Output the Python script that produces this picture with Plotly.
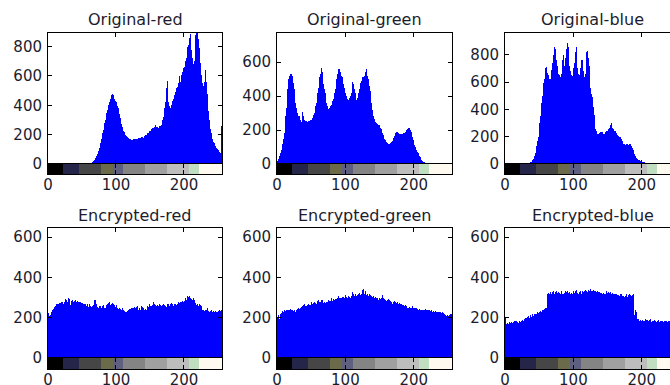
import plotly.graph_objects as go

# ---------------- data ----------------
levels = list(range(256))

orig_red = (
    [0] * 48 +
    [0, 0, 0, 0, 0, 0, 0, 0, 0, 0, 1, 2, 3, 4, 6, 8] +
    [11, 15, 19, 24, 30, 38, 46, 55, 66, 78, 92, 108, 125, 145, 168, 190] +
    [210, 230, 255, 280, 300, 320, 345, 370, 385, 400, 420, 440, 455, 470, 480, 500] +
    [470, 445, 440, 430, 420, 405, 395, 380, 360, 340, 315, 290, 270, 250, 238, 225] +
    [215, 205, 195, 188, 182, 178, 176, 172, 170, 168, 166, 162, 165, 168, 166, 170] +
    [168, 165, 170, 172, 175, 178, 174, 176, 180, 182, 184, 186, 180, 188, 192, 196] +
    [198, 205, 210, 208, 215, 222, 228, 235, 240, 248, 250, 245, 255, 262, 268, 255] +
    [250, 252, 248, 255, 260, 258, 265, 280, 300, 320, 345, 380, 420, 470, 520, 565] +
    [460, 420, 395, 380, 385, 400, 415, 430, 445, 460, 470, 490, 505, 515, 525, 550] +
    [580, 600, 560, 575, 610, 630, 645, 655, 660, 680, 700, 720, 760, 800, 810, 830] +
    [860, 885, 820, 780, 720, 660, 680, 700, 760, 880, 895, 890, 880, 850, 790, 740] +
    [690, 610, 580, 550, 530, 500, 560, 640, 600, 560, 480, 420, 360, 300, 270, 240] +
    [210, 190, 170, 150, 140, 130, 120, 110, 105, 100, 95, 90, 80, 75, 70, 260]
)

orig_green = (
    [20, 25, 30, 45, 55, 65, 80, 100, 120, 150, 180, 220, 280, 330, 380, 440] +
    [500, 510, 520, 530, 545, 530, 520, 500, 480, 440, 400, 360, 330, 300, 290, 285] +
    [280, 270, 260, 250, 270, 305, 280, 265, 260, 255, 250, 255, 248, 250, 252, 255] +
    [258, 260, 262, 270, 280, 290, 300, 310, 340, 360, 380, 420, 450, 480, 510, 530] +
    [550, 565, 540, 500, 470, 440, 420, 390, 360, 340, 330, 325, 330, 335, 340, 350] +
    [360, 370, 385, 400, 420, 440, 470, 500, 530, 560, 585, 560, 540, 530, 520, 510] +
    [490, 470, 450, 430, 420, 400, 390, 385, 380, 385, 390, 400, 420, 460, 485, 470] +
    [460, 440, 420, 390, 380, 390, 400, 420, 440, 460, 480, 490, 500, 510, 515, 520] +
    [530, 540, 560, 540, 520, 500, 480, 460, 430, 400, 360, 320, 300, 280, 265, 260] +
    [250, 240, 238, 235, 232, 228, 222, 215, 205, 195, 185, 170, 160, 150, 140, 135] +
    [128, 125, 122, 120, 120, 122, 125, 130, 138, 145, 155, 165, 175, 185, 190, 192] +
    [190, 185, 182, 178, 175, 174, 175, 176, 178, 180, 185, 190, 195, 200, 205, 210] +
    [215, 212, 205, 200, 190, 175, 160, 140, 125, 110, 100, 90, 80, 70, 62, 55] +
    [48, 40, 32, 26, 20, 16, 12, 9, 7, 5, 3, 2, 1, 0, 0, 0] +
    [0] * 32
)

orig_blue = (
    [0] * 16 +
    [0] * 14 + [1, 2] +
    [3, 5, 7, 9, 11, 14, 18, 22, 28, 36, 48, 62, 80, 100, 130, 165] +
    [200, 250, 300, 350, 400, 450, 500, 550, 590, 620, 650, 700, 710, 690, 670, 650] +
    [640, 620, 625, 650, 690, 740, 800, 850, 855, 840, 800, 760, 720, 680, 660, 650] +
    [650, 640, 660, 720, 760, 800, 760, 720, 780, 840, 870, 890, 860, 780, 720, 680] +
    [660, 650, 645, 650, 700, 740, 770, 820, 860, 780, 700, 660, 650, 660, 700, 760] +
    [820, 760, 680, 650, 640, 660, 740, 820, 825, 810, 780, 720, 640, 560, 510, 490] +
    [470, 420, 360, 300, 260, 240, 225, 220, 222, 225, 230, 235, 240, 238, 232, 228] +
    [222, 218, 225, 232, 240, 245, 250, 255, 262, 270, 285, 300, 280, 265, 258, 250] +
    [245, 240, 232, 225, 215, 210, 205, 200, 195, 190, 180, 165, 150, 148, 145, 142] +
    [140, 145, 150, 148, 140, 145, 150, 148, 140, 130, 120, 100, 85, 70, 60, 52] +
    [45, 40, 35, 32, 30, 28, 25, 22, 20, 18, 16, 14, 12, 10, 9, 8] +
    [7, 6, 5, 4, 3, 3, 2, 2, 1, 1, 1, 0, 0, 0, 0, 0] +
    [0] * 32
)

enc_red = (
    [225, 218, 210, 214, 222, 228, 236, 240, 245, 252, 262, 258, 266, 270, 262, 268] +
    [272, 266, 275, 280, 290, 276, 270, 282, 278, 292, 320, 286, 280, 296, 300, 292] +
    [305, 262, 284, 290, 288, 276, 282, 280, 286, 278, 272, 284, 280, 270, 276, 278] +
    [268, 274, 272, 264, 270, 266, 260, 268, 258, 262, 270, 254, 262, 266, 258, 252] +
    [260, 256, 262, 270, 286, 290, 280, 268, 252, 260, 250, 256, 262, 258, 250, 248] +
    [258, 262, 256, 250, 246, 252, 262, 268, 256, 272, 276, 264, 258, 266, 272, 280] +
    [270, 262, 258, 252, 262, 256, 250, 244, 256, 250, 242, 248, 240, 246, 238, 236] +
    [232, 238, 230, 226, 234, 240, 236, 244, 238, 242, 248, 244, 250, 246, 240, 252] +
    [248, 244, 252, 258, 246, 240, 250, 244, 238, 256, 300, 252, 246, 240, 248, 244] +
    [238, 250, 258, 252, 262, 266, 260, 270, 256, 262, 276, 280, 268, 272, 262, 258] +
    [270, 264, 258, 274, 266, 262, 256, 268, 262, 270, 258, 264, 256, 260, 252, 266] +
    [262, 270, 258, 254, 266, 272, 262, 268, 256, 262, 270, 266, 274, 262, 270, 276] +
    [268, 274, 280, 272, 276, 282, 288, 278, 284, 290, 296, 288, 300, 310, 304, 298] +
    [306, 296, 300, 292, 286, 296, 298, 290, 284, 272, 262, 270, 264, 258, 266, 270] +
    [262, 256, 248, 240, 236, 244, 232, 238, 242, 236, 246, 240, 234, 230, 238, 232] +
    [240, 236, 228, 234, 230, 238, 232, 226, 236, 230, 234, 228, 236, 232, 230, 236]
)

enc_green = (
    [205, 222, 215, 196, 212, 218, 224, 228, 232, 230, 236, 238, 232, 240, 242, 236] +
    [238, 244, 240, 242, 236, 240, 238, 244, 234, 240, 236, 230, 238, 244, 240, 246] +
    [242, 250, 246, 252, 248, 256, 262, 270, 266, 258, 262, 256, 264, 260, 268, 262] +
    [264, 270, 276, 268, 262, 272, 280, 276, 272, 268, 278, 282, 290, 286, 280, 276] +
    [284, 290, 286, 280, 272, 278, 274, 284, 280, 276, 286, 290, 282, 288, 284, 296] +
    [290, 284, 292, 296, 288, 294, 300, 292, 298, 310, 302, 296, 300, 306, 298, 304] +
    [310, 302, 296, 306, 312, 304, 300, 296, 306, 298, 304, 300, 310, 318, 326, 320] +
    [314, 308, 316, 300, 306, 312, 320, 318, 324, 330, 312, 318, 328, 335, 342, 320] +
    [348, 330, 312, 322, 318, 310, 306, 316, 314, 300, 310, 302, 296, 306, 300, 298] +
    [304, 296, 292, 300, 290, 296, 288, 294, 300, 290, 314, 298, 288, 292, 286, 290] +
    [282, 288, 280, 292, 286, 278, 284, 276, 270, 280, 276, 284, 272, 280, 274, 268] +
    [278, 270, 264, 272, 266, 260, 268, 262, 258, 264, 256, 262, 252, 258, 250, 256] +
    [248, 254, 258, 250, 246, 252, 256, 248, 242, 250, 246, 240, 248, 244, 238, 246] +
    [242, 236, 244, 240, 236, 232, 240, 238, 246, 242, 236, 230, 240, 236, 244, 238] +
    [232, 240, 236, 228, 234, 230, 226, 232, 224, 230, 226, 222, 230, 226, 220, 228] +
    [224, 218, 226, 222, 216, 220, 214, 210, 206, 214, 208, 204, 212, 218, 210, 216]
)

enc_blue = (
    [200, 172, 168, 176, 174, 170, 178, 175, 172, 180, 176, 172, 178, 184, 176, 182] +
    [186, 180, 178, 174, 182, 186, 180, 190, 184, 188, 194, 186, 196, 200, 192, 198] +
    [204, 198, 206, 200, 208, 212, 204, 210, 216, 208, 214, 220, 216, 224, 218, 226] +
    [222, 230, 226, 232, 236, 230, 238, 242, 236, 244, 240, 246, 250, 248, 320, 325] +
    [312, 318, 326, 330, 320, 328, 334, 322, 316, 326, 320, 330, 324, 318, 328, 322] +
    [326, 318, 330, 324, 320, 316, 328, 322, 334, 326, 320, 330, 324, 332, 326, 320] +
    [328, 322, 318, 326, 332, 324, 320, 330, 336, 326, 322, 318, 328, 324, 330, 320] +
    [326, 334, 328, 338, 330, 336, 342, 334, 328, 340, 336, 330, 338, 344, 332, 330] +
    [400, 336, 330, 342, 334, 328, 336, 330, 326, 334, 328, 322, 330, 324, 320, 328] +
    [322, 316, 326, 320, 330, 324, 318, 328, 322, 316, 326, 320, 314, 322, 318, 312] +
    [320, 316, 310, 318, 314, 320, 312, 308, 316, 310, 318, 306, 314, 310, 304, 312] +
    [308, 316, 310, 304, 312, 318, 320, 314, 310, 306, 312, 316, 220, 212, 236, 246] +
    [226, 196, 188, 192, 186, 194, 190, 184, 192, 188, 182, 190, 186, 194, 188, 182] +
    [190, 186, 180, 188, 192, 184, 178, 186, 190, 182, 188, 194, 186, 180, 188, 184] +
    [190, 184, 178, 186, 182, 190, 184, 178, 188, 182, 186, 192, 184, 180, 188, 182] +
    [186, 190, 184, 178, 186, 192, 184, 188, 182, 186, 190, 184, 180, 188, 184, 190]
)

titles = ["Original-red", "Original-green", "Original-blue",
          "Encrypted-red", "Encrypted-green", "Encrypted-blue"]
series = [orig_red, orig_green, orig_blue, enc_red, enc_green, enc_blue]
y_max = [893, 772, 960, 645, 645, 645]
y_ticks = [[0, 200, 400, 600, 800], [0, 200, 400, 600], [0, 200, 400, 600, 800],
           [0, 200, 400, 600], [0, 200, 400, 600], [0, 200, 400, 600]]
x_ticks = [0, 100, 200]

# gray-level colour bar as rendered (palettised) in the picture
cbar_edges = [0, 22, 46, 78, 95, 111, 143, 175, 207, 222, 256]
cbar_colors = ["#000000", "#25254a", "#464646", "#6b6b4a", "#5f5f80",
               "#848484", "#a0a0a0", "#bdbdbd", "#bfdfc0", "#fffaf0"]

# ---------------- layout geometry (pixels) ----------------
W, H = 670, 385
col_px = [(48, 222), (277, 452), (505, 680)]
row_hist_px = [(33, 164), (228, 358)]
row_cbar_px = [(164, 174), (358, 369)]
title_y_px = [19, 215]

FONT = "DejaVu Sans"
TXT = "#1c1c2e"

fig = go.Figure()
layout = dict(width=W, height=H, margin=dict(l=0, r=0, t=0, b=0, autoexpand=False),
              paper_bgcolor="white", plot_bgcolor="white",
              showlegend=False, bargap=0, annotations=[])

for p in range(6):
    r, c = divmod(p, 3)
    hx, cx = 2 * p + 1, 2 * p + 2
    x0, x1 = col_px[c]
    clip = x1 > W
    xr = 256.0 * (min(x1, W) - x0) / (x1 - x0)
    xd = [x0 / W, min(x1, W) / W]
    hy = [1 - row_hist_px[r][1] / H, 1 - row_hist_px[r][0] / H]
    cy = [1 - row_cbar_px[r][1] / H, 1 - row_cbar_px[r][0] / H]

    fig.add_trace(go.Bar(
        x=[v + 0.5 for v in levels], y=series[p], width=1,
        marker=dict(color="#0000ff", line=dict(width=0)),
        xaxis=f"x{hx}", yaxis=f"y{hx}", hoverinfo="skip"))

    fig.add_trace(go.Bar(
        x=[(cbar_edges[i] + cbar_edges[i + 1]) / 2 for i in range(len(cbar_colors))],
        y=[1] * len(cbar_colors),
        width=[cbar_edges[i + 1] - cbar_edges[i] for i in range(len(cbar_colors))],
        marker=dict(color=cbar_colors, line=dict(width=0)),
        xaxis=f"x{cx}", yaxis=f"y{cx}", hoverinfo="skip"))

    common_x = dict(range=[0, xr], domain=xd, showgrid=False, zeroline=False,
                    showline=True, linecolor="black", linewidth=1,
                    ticks="inside", ticklen=4, tickcolor="black",
                    tickvals=x_ticks, fixedrange=True, automargin=False)

    layout[f"xaxis{hx}"] = dict(common_x, anchor=f"y{hx}", mirror="ticks",
                                showticklabels=False)
    layout[f"yaxis{hx}"] = dict(range=[0, y_max[p]], domain=hy, anchor=f"x{hx}",
                                showgrid=False, zeroline=False, showline=True,
                                linecolor="black", linewidth=1,
                                mirror=False if clip else "ticks",
                                ticks="inside", ticklen=4, tickcolor="black",
                                tickvals=y_ticks[p],
                                ticktext=[str(t) for t in y_ticks[p]],
                                tickfont=dict(family=FONT, size=15, color=TXT),
                                ticklabelstandoff=2, fixedrange=True,
                                automargin=False)
    layout[f"xaxis{cx}"] = dict(common_x, anchor=f"y{cx}", mirror="ticks",
                                showticklabels=True,
                                tickfont=dict(family=FONT, size=15, color=TXT),
                                ticklabelstandoff=-3)
    layout[f"yaxis{cx}"] = dict(range=[0, 1], domain=cy, anchor=f"x{cx}",
                                showgrid=False, zeroline=False, showline=True,
                                linecolor="black", linewidth=1,
                                mirror=False if clip else True,
                                showticklabels=False, ticks="", fixedrange=True,
                                automargin=False)

    layout["annotations"].append(dict(
        text=titles[p], xref="paper", yref="paper",
        x=(x0 + x1) / 2 / W, y=1 - title_y_px[r] / H,
        xanchor="center", yanchor="middle", showarrow=False,
        font=dict(family=FONT, size=16, color=TXT)))

fig.update_layout(**layout)
fig.write_html("out.html",
               config={"displayModeBar": False, "staticPlot": True},
               post_script="document.body.style.margin='0';"
                           "document.body.style.padding='0';"
                           "document.body.style.overflow='hidden';")
